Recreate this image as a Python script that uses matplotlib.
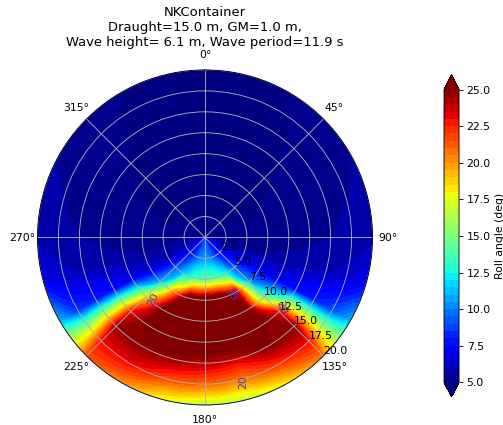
import numpy as np
import matplotlib
matplotlib.use('Agg')
from matplotlib import pyplot as plt

# 航向 (deg) 和 航速 (kn)
headings = [0, 15, 30, 45, 60, 75, 90, 105, 120, 135, 150, 165, 180,
            195, 210, 225, 240, 255, 270, 285, 300, 315, 330, 345, 360]
speeds = [0, 2.5, 5, 7.5, 10, 12.5, 15, 17.5, 20]

# 横摇角 (deg), 每行一个航向, 列对应 speeds
roll_angle = [
    [5.5, 5.0, 4.6, 4.4, 4.3, 4.3, 4.4, 4.5, 4.6],      # 0
    [5.5, 5.0, 4.6, 4.5, 4.4, 4.4, 4.5, 4.6, 4.7],      # 15
    [5.5, 5.0, 4.7, 4.6, 4.6, 4.7, 4.8, 4.9, 5.0],      # 30
    [5.5, 5.0, 4.8, 4.8, 4.9, 5.0, 5.1, 5.2, 5.3],      # 45
    [5.5, 5.1, 4.9, 5.0, 5.1, 5.2, 5.3, 5.4, 5.5],      # 60
    [5.6, 5.2, 5.0, 5.1, 5.2, 5.3, 5.4, 5.5, 5.6],      # 75
    [5.8, 5.3, 5.2, 5.2, 5.3, 5.4, 5.5, 5.6, 5.8],      # 90
    [6.2, 5.6, 5.5, 5.5, 5.6, 5.7, 5.9, 6.2, 7.0],      # 105
    [6.8, 6.2, 6.5, 6.8, 7.0, 7.5, 8.0, 9.0, 11.0],     # 120
    [7.2, 7.2, 9.0, 10.5, 14.0, 23.0, 25.0, 23.0, 20.5],   # 135
    [7.8, 8.5, 12.5, 24.0, 26.0, 26.5, 25.0, 22.0, 18.0],  # 150
    [8.5, 10.0, 14.0, 27.0, 27.0, 26.5, 23.5, 20.5, 16.5],  # 165
    [8.8, 10.5, 14.0, 27.0, 27.0, 26.5, 24.0, 21.0, 16.5],  # 180
    [8.5, 10.0, 13.5, 26.5, 27.0, 26.5, 24.5, 21.5, 17.5],  # 195
    [7.8, 8.5, 11.5, 20.0, 26.0, 26.0, 24.8, 23.0, 20.0],  # 210
    [7.2, 7.2, 9.0, 11.0, 18.0, 23.0, 24.5, 23.0, 21.5],   # 225
    [6.8, 6.2, 6.0, 6.5, 7.0, 7.5, 8.0, 8.5, 11.0],     # 240
    [6.2, 5.6, 5.5, 5.5, 5.6, 5.7, 5.9, 6.2, 7.0],      # 255
    [5.8, 5.3, 5.2, 5.2, 5.3, 5.4, 5.5, 5.6, 5.8],      # 270
    [5.6, 5.2, 5.0, 5.1, 5.2, 5.3, 5.4, 5.5, 5.6],      # 285
    [5.5, 5.1, 4.9, 5.0, 5.1, 5.2, 5.3, 5.4, 5.5],      # 300
    [5.5, 5.0, 4.8, 4.8, 4.9, 5.0, 5.1, 5.2, 5.3],      # 315
    [5.5, 5.0, 4.7, 4.6, 4.6, 4.7, 4.8, 4.9, 5.0],      # 330
    [5.5, 5.0, 4.6, 4.5, 4.4, 4.4, 4.5, 4.6, 4.7],      # 345
    [5.5, 5.0, 4.6, 4.4, 4.3, 4.3, 4.4, 4.5, 4.6],      # 360
]

levels = np.arange(5, 25.01, 0.5)
cbar_ticks = [5, 7.5, 10, 12.5, 15, 17.5, 20, 22.5, 25]
r_ticks = [2.5, 5, 7.5, 10, 12.5, 15, 17.5, 20]
label_levels = [20, 25]
# 等值线标签的大致位置 (航向 deg, 航速) 和旋转角
label_pos = [(221, 9.5), (155, 7.4), (131, 12.2), (165, 17.7)]
label_rot = [65, -60, -70, 90]

title = ('NKContainer\nDraught=15.0 m, GM=1.0 m,\n'
         'Wave height= 6.1 m, Wave period=11.9 s')

theta = np.radians(headings)
R, T = np.meshgrid(speeds, theta)
Z = np.array(roll_angle)

fig = plt.figure(figsize=(6.4, 5.408), dpi=78.6)
ax = fig.add_axes([37 / 503, 20 / 425, 336 / 503, 335 / 425], projection='polar')
ax.set_theta_zero_location('N')
ax.set_theta_direction(-1)

cf = ax.contourf(T, R, Z, levels=levels, cmap='jet', extend='both')
for p in cf.get_paths():
    p._interpolation_steps = 20

cs = ax.contour(T, R, Z, levels=label_levels, colors='#3a3ad0', linewidths=0)
ax.clabel(cs, fmt='%d', fontsize=10,
          manual=[(np.radians(a), r) for a, r in label_pos])
for txt, rot in zip(cs.labelTexts, label_rot):
    txt.set_rotation(rot)

ax.set_ylim(0, 20)
ax.set_rticks(r_ticks)
ax.set_rlabel_position(135)
ax.set_title(title, pad=3.5)

cax = fig.add_axes([444 / 503, 28 / 425, 15 / 503, 322 / 425])
cb = fig.colorbar(cf, cax=cax, ticks=cbar_ticks)
cb.set_label('Roll angle (deg)')

fig.savefig('out.png', dpi=78.6)
